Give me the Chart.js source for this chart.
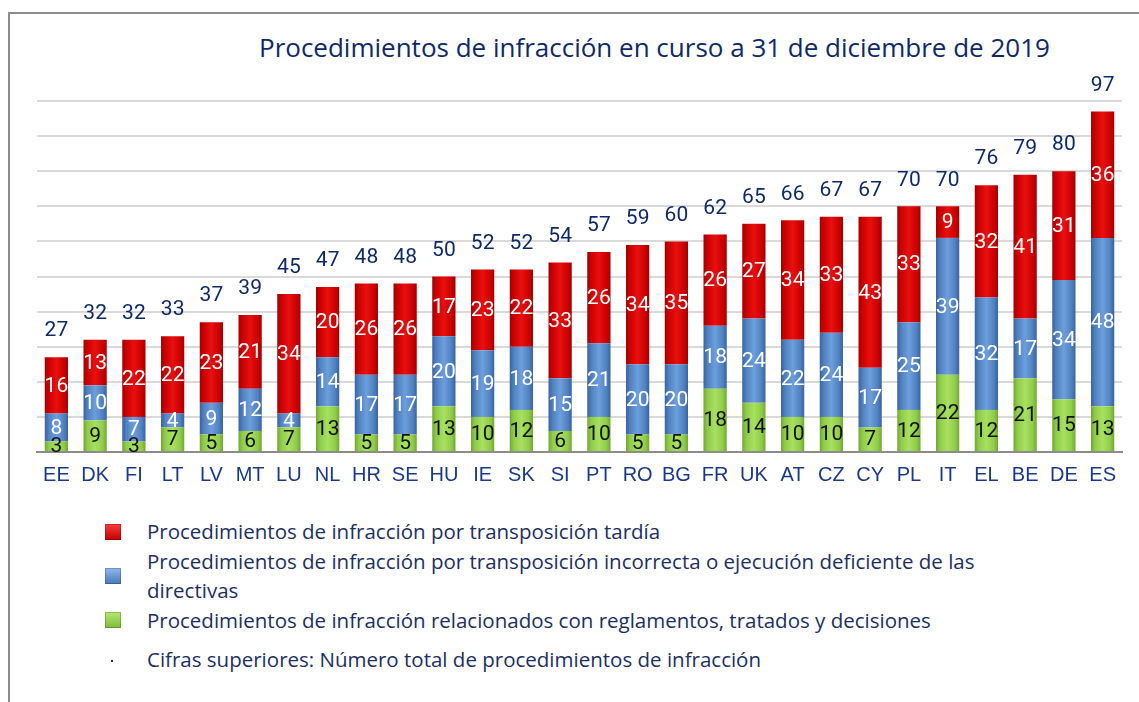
<!DOCTYPE html>
<html lang="es">
<head>
<meta charset="UTF-8">
<title>Procedimientos de infracción</title>
<script src="https://cdn.jsdelivr.net/npm/chart.js"></script>
<style>
  body { margin: 0; background: #fff; font-family: "Open Sans", sans-serif; }
  .frame {
    position: absolute; left: 8px; top: 12px; width: 1140px; height: 700px;
    border-left: 2px solid #8c8c8c; border-top: 2px solid #8c8c8c;
  }
  .title {
    position: absolute; left: 259px; top: 29px; font-size: 26px; color: #0e2a66;
    white-space: nowrap;
  }
  #wrap { position: absolute; left: 0; top: 0; width: 1139px; height: 490px; }
  .legend { position: absolute; left: 105px; top: 517px; color: #1d2f61; font-size: 20.5px; }
  .item { position: relative; padding-left: 42px; line-height: 29.5px; }
  .item .mk {
    position: absolute; left: 0; width: 16px; height: 16px; top: 50%; margin-top: -8px;
    box-shadow: inset 0 0 0 1px rgba(0,0,0,0.2);
  }
  .gap { margin-top: 10px; }
</style>
</head>
<body>
<div class="frame"></div>
<div class="title">Procedimientos de infracción en curso a 31 de diciembre de 2019</div>
<div id="wrap"><canvas id="chart"></canvas></div>
<div class="legend">
  <div class="item"><span class="mk" style="background:linear-gradient(#ff3a3a,#c00000)"></span>Procedimientos de infracción por transposición tardía</div>
  <div class="item"><span class="mk" style="background:linear-gradient(#8fb8ec,#4a78b8)"></span>Procedimientos de infracción por transposición incorrecta o ejecución deficiente de las<br>directivas</div>
  <div class="item"><span class="mk" style="background:linear-gradient(#b8e870,#7cbc3a)"></span>Procedimientos de infracción relacionados con reglamentos, tratados y decisiones</div>
  <div class="item gap"><span class="mk" style="width:2px;height:2px;margin-top:0;left:6px;background:#1d2f61;box-shadow:none"></span>Cifras superiores: Número total de procedimientos de infracción</div>
</div>

<script>
const countries = ["EE","DK","FI","LT","LV","MT","LU","NL","HR","SE","HU","IE","SK","SI","PT","RO","BG","FR","UK","AT","CZ","CY","PL","IT","EL","BE","DE","ES"];
const reglamentos = [3,9,3,7,5,6,7,13,5,5,13,10,12,6,10,5,5,18,14,10,10,7,12,22,12,21,15,13];
const incorrecta = [8,10,7,4,9,12,4,14,17,17,20,19,18,15,21,20,20,18,24,22,24,17,25,39,32,17,34,48];
const tardia = [16,13,22,22,23,21,34,20,26,26,17,23,22,33,26,34,35,26,27,34,33,43,33,9,32,41,31,36];
const totals = [27,32,32,33,37,39,45,47,48,48,50,52,52,54,57,59,60,62,65,66,67,67,70,70,76,79,80,97];

// degradado horizontal para cada barra (efecto cilindro)
function shade(dark, mid, light) {
  return function (c) {
    const chart = c.chart;
    if (!chart.chartArea) return mid;
    const x = chart.scales.x.getPixelForValue(c.dataIndex);
    const g = chart.ctx.createLinearGradient(x - 12, 0, x + 12, 0);
    g.addColorStop(0, dark);
    g.addColorStop(0.18, mid);
    g.addColorStop(0.5, light);
    g.addColorStop(0.82, mid);
    g.addColorStop(1, dark);
    return g;
  };
}

const segLabels = {
  id: "segLabels",
  afterDatasetsDraw(chart) {
    const ctx = chart.ctx;
    ctx.save();
    ctx.textAlign = "center";
    ctx.textBaseline = "middle";
    ctx.font = "21px Roboto, sans-serif";
    chart.data.datasets.forEach((ds, i) => {
      const meta = chart.getDatasetMeta(i);
      meta.data.forEach((bar, j) => {
        ctx.fillStyle = i === 0 ? "#111" : "#fff";
        const y = (bar.y + bar.base) / 2;
        ctx.fillText(ds.data[j], bar.x, y + 1);
      });
    });
    // totales
    const top = chart.getDatasetMeta(2);
    ctx.fillStyle = "#0e2a66";
    top.data.forEach((bar, j) => {
      ctx.fillText(totals[j], bar.x, bar.y - 26);
    });
    ctx.restore();
  }
};

new Chart(document.getElementById("chart"), {
  type: "bar",
  data: {
    labels: countries,
    datasets: [
      { label: "reglamentos", data: reglamentos, backgroundColor: shade("#6fa32e", "#8fcc4a", "#a8e060") },
      { label: "incorrecta", data: incorrecta, backgroundColor: shade("#36609a", "#4f80c0", "#6e9fdc") },
      { label: "tardia", data: tardia, backgroundColor: shade("#9a0000", "#cc0000", "#e81010") }
    ]
  },
  options: {
    responsive: true,
    maintainAspectRatio: false,
    animation: false,
    layout: { padding: { top: 101, left: 37, right: 17, bottom: 0 } },
    datasets: { bar: { categoryPercentage: 0.6, barPercentage: 1 } },
    plugins: { legend: { display: false }, tooltip: { enabled: false } },
    scales: {
      x: {
        stacked: true,
        grid: { display: false },
        border: { color: "#8c8c8c", width: 2 },
        ticks: { color: "#1b3a86", font: { size: 20, family: "'Liberation Sans', Arial, sans-serif" }, padding: 3 }
      },
      y: {
        stacked: true,
        min: 0, max: 100,
        ticks: { display: false, stepSize: 10 },
        border: { display: false },
        grid: { color: "#d9d9d9", lineWidth: 2, drawTicks: false }
      }
    }
  },
  plugins: [segLabels]
});
</script>
</body>
</html>
